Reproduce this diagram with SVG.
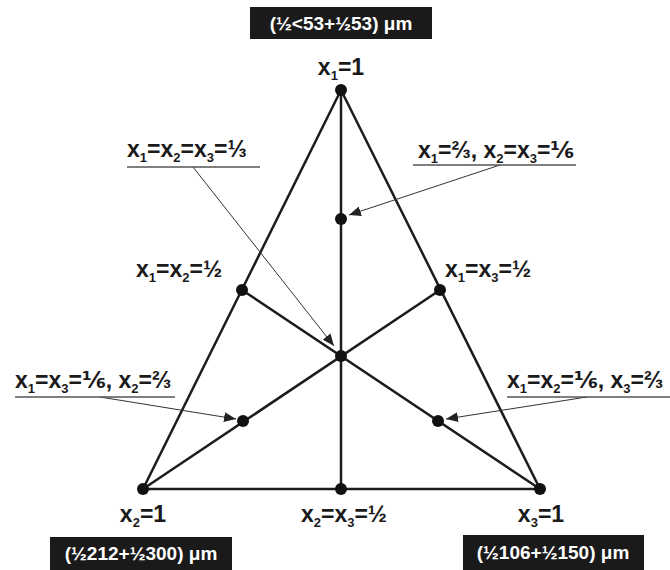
<svg xmlns="http://www.w3.org/2000/svg" width="670" height="570" viewBox="0 0 670 570">
<style>
.edge{stroke:#1c1c1c;stroke-width:2.5;fill:none;stroke-linecap:round}
.dot{fill:#111}
.lbl{font-family:"Liberation Sans",Arial,"DejaVu Sans",sans-serif;font-weight:bold;font-size:23px;fill:#1a1a1a}
.sub{font-size:13px}
.box{fill:#1a1a1a}
.boxt{font-family:"Liberation Sans",Arial,"DejaVu Sans",sans-serif;font-weight:bold;font-size:19px;fill:#fff}
.ul{stroke:#555;stroke-width:1.6}
.conn{stroke:#333;stroke-width:1;fill:none}
</style>
<defs>
<marker id="arr" markerUnits="userSpaceOnUse" markerWidth="12" markerHeight="10" viewBox="0 0 12 10" refX="12" refY="5" orient="auto">
<path d="M0,0 L12,5 L0,10 z" fill="#222"/>
</marker>
</defs>
<rect width="670" height="570" fill="#fff"/>
<g id="edges">
<path class="edge" d="M341,90 L143,489 L540,489 Z"/>
<line class="edge" x1="341" y1="90" x2="341" y2="489"/>
<line class="edge" x1="143" y1="489" x2="440" y2="290"/>
<line class="edge" x1="540" y1="489" x2="242" y2="290"/>
</g>
<g id="connectors">
<line class="conn" x1="193" y1="167" x2="334" y2="346" marker-end="url(#arr)"/>
<line class="conn" x1="500" y1="165" x2="349" y2="215" marker-end="url(#arr)"/>
<line class="conn" x1="100" y1="397" x2="236" y2="419" marker-end="url(#arr)"/>
<line class="conn" x1="587" y1="397" x2="446" y2="419" marker-end="url(#arr)"/>
</g>
<g id="v1"><circle class="dot" cx="341" cy="90" r="6"/><text class="lbl" x="341" y="75" text-anchor="middle">x<tspan class="sub" dy="5">1</tspan><tspan dy="-5">=1</tspan></text></g>
<g id="v2"><circle class="dot" cx="143" cy="489" r="6"/><text class="lbl" x="143" y="522" text-anchor="middle">x<tspan class="sub" dy="5">2</tspan><tspan dy="-5">=1</tspan></text></g>
<g id="v3"><circle class="dot" cx="540" cy="489" r="6"/><text class="lbl" x="541" y="522" text-anchor="middle">x<tspan class="sub" dy="5">3</tspan><tspan dy="-5">=1</tspan></text></g>
<g id="m23"><circle class="dot" cx="341" cy="489" r="6"/><text class="lbl" x="344" y="522" text-anchor="middle">x<tspan class="sub" dy="5">2</tspan><tspan dy="-5">=x</tspan><tspan class="sub" dy="5">3</tspan><tspan dy="-5">=½</tspan></text></g>
<g id="m12"><circle class="dot" cx="242" cy="290" r="6"/><text class="lbl" x="136" y="277">x<tspan class="sub" dy="5">1</tspan><tspan dy="-5">=x</tspan><tspan class="sub" dy="5">2</tspan><tspan dy="-5">=½</tspan></text></g>
<g id="m13"><circle class="dot" cx="440" cy="290" r="6"/><text class="lbl" x="445" y="277">x<tspan class="sub" dy="5">1</tspan><tspan dy="-5">=x</tspan><tspan class="sub" dy="5">3</tspan><tspan dy="-5">=½</tspan></text></g>
<g id="c"><circle class="dot" cx="341" cy="356" r="6"/><text class="lbl" x="127" y="157">x<tspan class="sub" dy="5">1</tspan><tspan dy="-5">=x</tspan><tspan class="sub" dy="5">2</tspan><tspan dy="-5">=x</tspan><tspan class="sub" dy="5">3</tspan><tspan dy="-5">=⅓</tspan></text><line class="ul" x1="127" y1="167" x2="260" y2="167"/></g>
<g id="p1"><circle class="dot" cx="341" cy="219" r="6"/><text class="lbl" x="418" y="158">x<tspan class="sub" dy="5">1</tspan><tspan dy="-5">=⅔, x</tspan><tspan class="sub" dy="5">2</tspan><tspan dy="-5">=x</tspan><tspan class="sub" dy="5">3</tspan><tspan dy="-5">=⅙</tspan></text><line class="ul" x1="413" y1="165" x2="576" y2="165"/></g>
<g id="p2"><circle class="dot" cx="243" cy="421" r="6"/><text class="lbl" x="15" y="388">x<tspan class="sub" dy="5">1</tspan><tspan dy="-5">=x</tspan><tspan class="sub" dy="5">3</tspan><tspan dy="-5">=⅙, x</tspan><tspan class="sub" dy="5">2</tspan><tspan dy="-5">=⅔</tspan></text><line class="ul" x1="15" y1="397" x2="175" y2="397"/></g>
<g id="p3"><circle class="dot" cx="438" cy="421" r="6"/><text class="lbl" x="507" y="388">x<tspan class="sub" dy="5">1</tspan><tspan dy="-5">=x</tspan><tspan class="sub" dy="5">2</tspan><tspan dy="-5">=⅙, x</tspan><tspan class="sub" dy="5">3</tspan><tspan dy="-5">=⅔</tspan></text><line class="ul" x1="507" y1="397" x2="670" y2="397"/></g>
<g id="boxTop"><rect class="box" x="250" y="7" width="182" height="32"/><text class="boxt" x="341" y="30" text-anchor="middle">(½&lt;53+½53) μm</text></g>
<g id="boxLeft"><rect class="box" x="50" y="537" width="182" height="33"/><text class="boxt" x="141" y="560" text-anchor="middle">(½212+½300) μm</text></g>
<g id="boxRight"><rect class="box" x="463" y="535" width="181" height="35"/><text class="boxt" x="553" y="559" text-anchor="middle">(½106+½150) μm</text></g>
</svg>
